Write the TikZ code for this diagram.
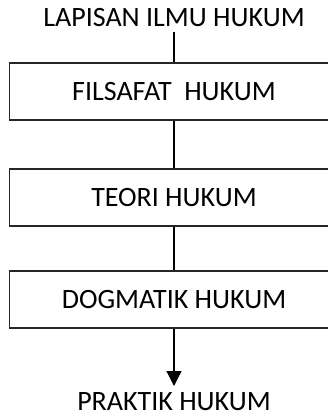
\documentclass[tikz,border=0pt]{standalone}
\usepackage{fontspec}
\setmainfont{Carlito}
\usepackage{tikz}
\usetikzlibrary{arrows.meta}
\tikzset{
  lapis/.style  ={draw=black!85, line width=1.3pt, minimum width=329pt, minimum height=57pt, inner sep=0pt, font=\fontsize{28}{32}\selectfont},
  judul/.style  ={inner sep=0pt, font=\fontsize{28}{32}\selectfont},
  garis/.style  ={black, line width=1.2pt},
  panah/.style  ={garis, -{Triangle[width=15pt,length=15pt]}},
}
\begin{document}
\begin{tikzpicture}[x=1pt,y=-1pt]
  \useasboundingbox (0,0) rectangle (328,417);
  \clip (0,0) rectangle (328,417);
  \node[judul] (ilmu) at (174,18) {LAPISAN ILMU HUKUM};
  \node[lapis] (filsafat) at (174,91.5) {FILSAFAT\ \ HUKUM};
  \node[lapis] (teori) at (174,197.5) {TEORI HUKUM};
  \node[lapis] (dogmatik) at (174,299.5) {DOGMATIK HUKUM};
  \node[judul] (praktik) at (174,402) {PRAKTIK HUKUM};
  \coordinate (ujung) at (174,386);
  \draw[garis] (ilmu.south) ++(0,5) -- (filsafat.north);
  \draw[garis] (filsafat) -- (teori);
  \draw[garis] (teori) -- (dogmatik);
  \draw[panah] (dogmatik.south) -- (ujung);
\end{tikzpicture}
\end{document}
